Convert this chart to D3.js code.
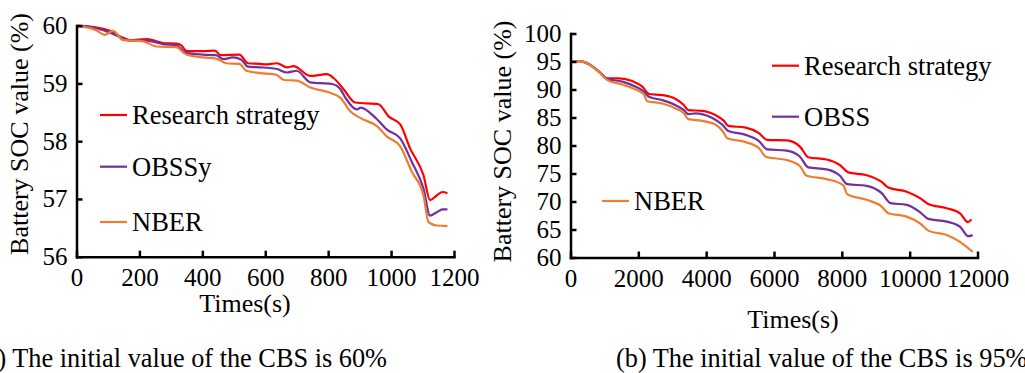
<!DOCTYPE html>
<html>
<head>
<meta charset="utf-8">
<script src="https://cdn.jsdelivr.net/npm/d3@7/dist/d3.min.js"></script>
<style>
  body { margin: 0; background: #fff; }
  .axis path, .axis line { stroke: #000; stroke-width: 2.5; }
</style>
</head>
<body>
<svg class="js-chart" width="1025" height="373"></svg>
<script>
var FONT = '"Liberation Serif", "Times New Roman", Times';

// ---- data (a): initial CBS 60%, [time s, SOC %]
var seriesNames = ['Research strategy', 'OBSSy', 'NBER'];
var seriesNamesB = ['Research strategy', 'OBSS', 'NBER'];
var colors = ['#ff0000', '#7030a0', '#ed7d31'];

var a_research = [[0,60.00],[60,59.97],[106,59.91],[148,59.79],[170,59.75],[222,59.77],[250,59.74],[275,59.70],
  [317,59.69],[333,59.66],[351,59.56],[402,59.56],[440,59.57],[458,59.49],[518,59.50],[545,59.35],[584,59.34],
  [600,59.33],[637,59.35],[669,59.28],[690,59.30],[743,59.13],[796,59.16],[818,59.09],[849,58.90],[886,58.67],
  [960,58.64],[992,58.43],[1029,58.29],[1060,57.88],[1103,57.41],[1124,56.98],[1145,57.06],[1164,57.12],[1179,57.10]];
var a_obssy = [[0,60.00],[60,59.96],[106,59.88],[148,59.78],[169,59.74],[222,59.74],[275,59.68],[317,59.66],
  [349,59.53],[402,59.50],[444,59.49],[466,59.42],[497,59.45],[524,59.41],[545,59.29],[584,59.28],[637,59.25],
  [669,59.19],[700,59.22],[743,59.02],[812,58.99],[839,58.90],[855,58.75],[892,58.55],[903,58.58],[955,58.38],
  [987,58.20],[1029,58.05],[1066,57.64],[1103,57.18],[1124,56.71],[1145,56.77],[1164,56.82],[1179,56.82]];
var a_nber = [[0,60.00],[63,59.92],[90,59.84],[116,59.91],[148,59.75],[212,59.73],[254,59.64],[317,59.63],
  [349,59.50],[402,59.45],[444,59.43],[476,59.35],[518,59.34],[540,59.22],[584,59.18],[635,59.15],[660,59.06],
  [700,59.05],[743,58.93],[806,58.84],[839,58.75],[870,58.52],[903,58.40],[955,58.26],[987,58.08],[1029,57.91],
  [1066,57.47],[1103,57.06],[1119,56.60],[1145,56.54],[1179,56.53]];

// ---- data (b): initial CBS 95%
var b_research = [[0,95.0],[250,95.05],[545,94.5],[840,93.2],[1085,92.0],[1430,92.0],[1822,91.5],[2117,90.5],
  [2314,89.2],[2707,89.0],[3100,88.3],[3346,87.2],[3474,86.3],[3887,86.2],[4280,85.4],[4525,84.4],[4653,83.5],
  [5165,83.2],[5557,82.2],[5803,81.0],[6374,80.9],[6766,79.8],[7011,77.9],[7553,77.5],[7945,76.5],[8190,75.2],
  [8732,74.7],[9174,73.5],[9369,72.5],[9912,71.75],[10304,70.6],[10549,69.55],[11091,68.8],[11483,67.9],
  [11720,66.3],[11820,66.8]];
var b_obss = [[0,95.0],[250,95.05],[545,94.5],[840,93.2],[1085,91.9],[1528,91.4],[1921,90.5],[2166,89.6],
  [2314,88.7],[2707,88.1],[3100,87.2],[3346,86.3],[3474,85.6],[3690,85.75],[4182,84.9],[4477,83.7],[4653,82.6],
  [5165,81.9],[5557,80.8],[5803,79.3],[6374,79.1],[6766,78.0],[7011,76.1],[7553,75.75],[7945,74.6],[8160,73.1],
  [8732,72.8],[9174,71.5],[9437,69.7],[9912,69.4],[10304,68.1],[10549,66.9],[11091,66.4],[11483,65.5],
  [11727,63.8],[11854,64.0]];
var b_nber = [[0,95.0],[250,95.05],[545,94.5],[840,93.1],[1085,91.7],[1528,90.9],[1921,90.0],[2166,89.1],
  [2265,87.9],[2707,87.5],[3100,86.6],[3346,85.75],[3474,84.7],[3887,84.4],[4280,83.7],[4496,82.5],[4624,81.3],
  [5165,80.6],[5557,79.5],[5770,77.95],[6374,77.4],[6766,76.3],[6962,74.6],[7553,74.0],[8043,72.9],[8160,71.3],
  [8732,70.3],[9174,69.1],[9369,67.9],[9912,67.3],[10304,66.1],[10549,64.8],[11091,64.0],[11483,62.8],
  [11860,61.0]];

var a_xTicks = [0, 200, 400, 600, 800, 1000, 1200];
var a_yTicks = [56, 57, 58, 59, 60];
var b_xTicks = [0, 2000, 4000, 6000, 8000, 10000, 12000];
var b_yTicks = [60, 65, 70, 75, 80, 85, 90, 95, 100];

var svg = d3.select('.js-chart');

function label(sel, size) {
  return sel.style('font-family', FONT).style('font-size', size + 'px').attr('fill', '#000');
}

function drawPanel(p) {
  var x = d3.scaleLinear().domain(p.xDomain).range([p.left, p.right]),
      y = d3.scaleLinear().domain(p.yDomain).range([p.bottom, p.top]),
      g = svg.append('g');

  var line = d3.line()
      .x(function(d) { return x(d[0]); })
      .y(function(d) { return y(d[1]); })
      .curve(d3.curveMonotoneX);

  p.series.forEach(function(s, i) {
    g.append('path')
        .attr('d', line(s))
        .attr('fill', 'none')
        .attr('stroke', colors[i])
        .attr('stroke-width', 2.2);
  });

  // axes, ticks point inward
  g.append('g')
      .attr('class', 'axis')
      .attr('transform', 'translate(0,' + p.bottom + ')')
      .call(d3.axisBottom(x).tickValues(p.xTicks).tickSizeInner(-6).tickSizeOuter(0).tickPadding(12).tickFormat(d3.format('d')));
  g.append('g')
      .attr('class', 'axis')
      .attr('transform', 'translate(' + p.left + ',0)')
      .call(d3.axisLeft(y).tickValues(p.yTicks).tickSizeInner(-6).tickSizeOuter(0).tickPadding(9).tickFormat(d3.format('d')));
  label(g.selectAll('.axis text'), 25);
  g.selectAll('.axis .domain').attr('stroke-linecap', 'square');

  // legend
  p.legend.forEach(function(l, i) {
    g.append('line')
        .attr('x1', l[0]).attr('x2', l[0] + 27)
        .attr('y1', l[1]).attr('y2', l[1])
        .attr('stroke', colors[i]).attr('stroke-width', 2.2);
    label(g.append('text'), 26.5)
        .attr('x', l[0] + 32).attr('y', l[1] + 9)
        .text(p.names[i]);
  });

  label(g.append('text'), 26)
      .attr('text-anchor', 'middle')
      .attr('x', p.xTitle[0]).attr('y', p.xTitle[1])
      .text('Times(s)');
  label(g.append('text'), 26)
      .attr('text-anchor', 'middle')
      .attr('transform', 'translate(' + p.yTitle[0] + ',' + p.yTitle[1] + ') rotate(-90)')
      .text('Battery SOC value (%)');
  label(g.append('text'), 26.3)
      .attr('x', p.caption[0]).attr('y', p.caption[1])
      .text(p.caption[2]);
}

drawPanel({
  xDomain: [0, 1200], yDomain: [56, 60],
  left: 76.5, right: 454, top: 25.7, bottom: 256.7,
  xTicks: a_xTicks, yTicks: a_yTicks,
  series: [a_research, a_obssy, a_nber],
  names: seriesNames,
  legend: [[100, 115], [100, 166.7], [100, 222]],
  xTitle: [245, 312], yTitle: [28, 134],
  caption: [-23, 367, '(a) The initial value of the CBS is 60%']
});

drawPanel({
  xDomain: [0, 12000], yDomain: [60, 100],
  left: 570.5, right: 977.5, top: 33.5, bottom: 257.5,
  xTicks: b_xTicks, yTicks: b_yTicks,
  series: [b_research, b_obss, b_nber],
  names: seriesNamesB,
  legend: [[772, 65.7], [772, 116.7], [602, 201]],
  xTitle: [793, 328], yTitle: [511, 141.5],
  caption: [616, 367, '(b) The initial value of the CBS is 95%']
});
</script>
</body>
</html>
